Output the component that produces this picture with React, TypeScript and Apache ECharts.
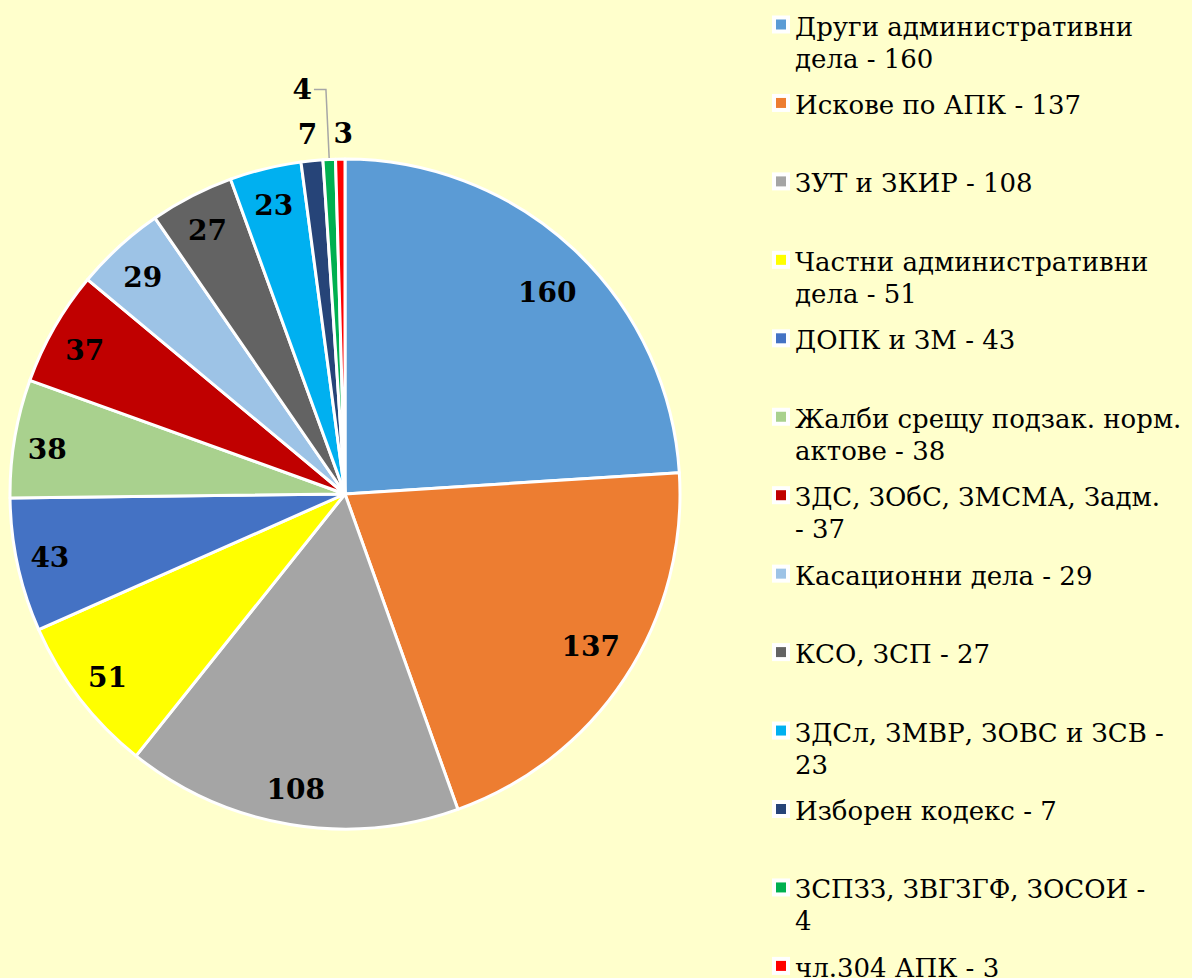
import React, { useEffect, useRef } from "react";
import * as echarts from "echarts";

const categories = [
  "Други административни дела",
  "Искове по АПК",
  "ЗУТ и ЗКИР",
  "Частни административни дела",
  "ДОПК и ЗМ",
  "Жалби срещу подзак. норм. актове",
  "ЗДС, ЗОбС, ЗМСМА, Задм.",
  "Касационни дела",
  "КСО, ЗСП",
  "ЗДСл, ЗМВР, ЗОВС и ЗСВ",
  "Изборен кодекс",
  "ЗСПЗЗ, ЗВГЗГФ, ЗОСОИ",
  "чл.304 АПК",
];
const values = [160, 137, 108, 51, 43, 38, 37, 29, 27, 23, 7, 4, 3];
const colors = [
  "#5B9BD5",
  "#ED7D31",
  "#A5A5A5",
  "#FFFF00",
  "#4472C4",
  "#A9D18E",
  "#C00000",
  "#9DC3E6",
  "#636363",
  "#00B0F0",
  "#264478",
  "#00B050",
  "#FF0000",
];
// number of words kept on the first legend line (0 = no wrap)
const legendFirstLineWords = [2, 0, 0, 2, 0, 4, 4, 0, 0, 6, 0, 4, 0];

const CX = 345;
const CY = 494;
const R = 335;

// small label nudges (px) to mimic the original label placement
const labelNudges: Record<number, { dx?: number; dy?: number }> = {
  0: { dx: -3, dy: 17 },
  1: { dx: -5, dy: -12 },
  4: { dx: -2 },
  5: { dx: -2, dy: 5 },
  6: { dy: 6 },
  7: { dy: 5 },
  8: { dy: 3 },
  9: { dy: 3 },
  10: { dx: 10 },
  12: { dx: 15 },
};

function legendText(i: number) {
  const words = `${categories[i]} - ${values[i]}`.split(" ");
  const n = legendFirstLineWords[i];
  if (!n) return words.join(" ");
  return words.slice(0, n).join(" ") + "\n" + words.slice(n).join(" ");
}

export default function App() {
  const ref = useRef<HTMLDivElement>(null);
  useEffect(() => {
    if (!ref.current) return;
    const chart = echarts.init(ref.current, undefined, { renderer: "svg" });
    const data = categories.map((name, i) => ({
      name,
      value: values[i],
      itemStyle: { color: colors[i] },
    }));
    const labelData = categories.map((name, i) => {
      const d: any = { name, value: values[i] };
      if (i === 10 || i === 12) {
        d.label = { position: "outside" };
        d.labelLine = { show: false, length: 26, length2: 0 };
      } else if (i === 11) {
        d.label = { position: "outside" };
        d.labelLine = {
          show: true,
          length: 70,
          length2: 12,
          lineStyle: { color: "#A6A6A6", width: 1.5 },
        };
      }
      return d;
    });

    const graphics: any[] = [];
    categories.forEach((name, i) => {
      const y0 = 24.5 + i * 78.45;
      graphics.push({
        type: "rect",
        shape: { x: 772, y: y0 - 9, width: 18, height: 18 },
        style: { fill: "#FFFFFF" },
        silent: true,
      });
      graphics.push({
        type: "rect",
        shape: { x: 776, y: y0 - 5, width: 10, height: 10 },
        style: { fill: colors[i] },
        silent: true,
      });
      graphics.push({
        type: "text",
        x: 795,
        y: y0 - 14,
        style: {
          text: legendText(i),
          fontFamily: "DejaVu Serif",
          fontSize: 26,
          fill: "#000000",
          lineHeight: 32,
          verticalAlign: "top",
          align: "left",
        },
        silent: true,
      });
    });

    chart.setOption({
      animation: false,
      backgroundColor: "#FFFFCC",
      graphic: graphics,
      series: [
        {
          type: "pie",
          center: [CX, CY],
          radius: [0, R],
          startAngle: 90,
          clockwise: true,
          avoidLabelOverlap: false,
          silent: true,
          label: { show: false },
          labelLine: { show: false },
          itemStyle: { borderColor: "#FFFFFF", borderWidth: 3 },
          data,
        },
        {
          type: "pie",
          center: [CX, CY],
          radius: [R - 76, R],
          startAngle: 90,
          clockwise: true,
          avoidLabelOverlap: false,
          silent: true,
          itemStyle: { color: "rgba(0,0,0,0)", borderWidth: 0 },
          label: {
            show: true,
            position: "inside",
            formatter: "{c}",
            color: "#000000",
            fontFamily: "DejaVu Serif",
            fontWeight: "bold",
            fontSize: 28,
            distanceToLabelLine: 2,
          },
          labelLine: { show: false },
          labelLayout: (p: any) => labelNudges[p.dataIndex] || {},
          data: labelData,
        },
      ],
    });
    return () => chart.dispose();
  }, []);
  return (
    <div
      ref={ref}
      style={{ position: "absolute", left: 0, top: 0, width: 1192, height: 978 }}
    />
  );
}
